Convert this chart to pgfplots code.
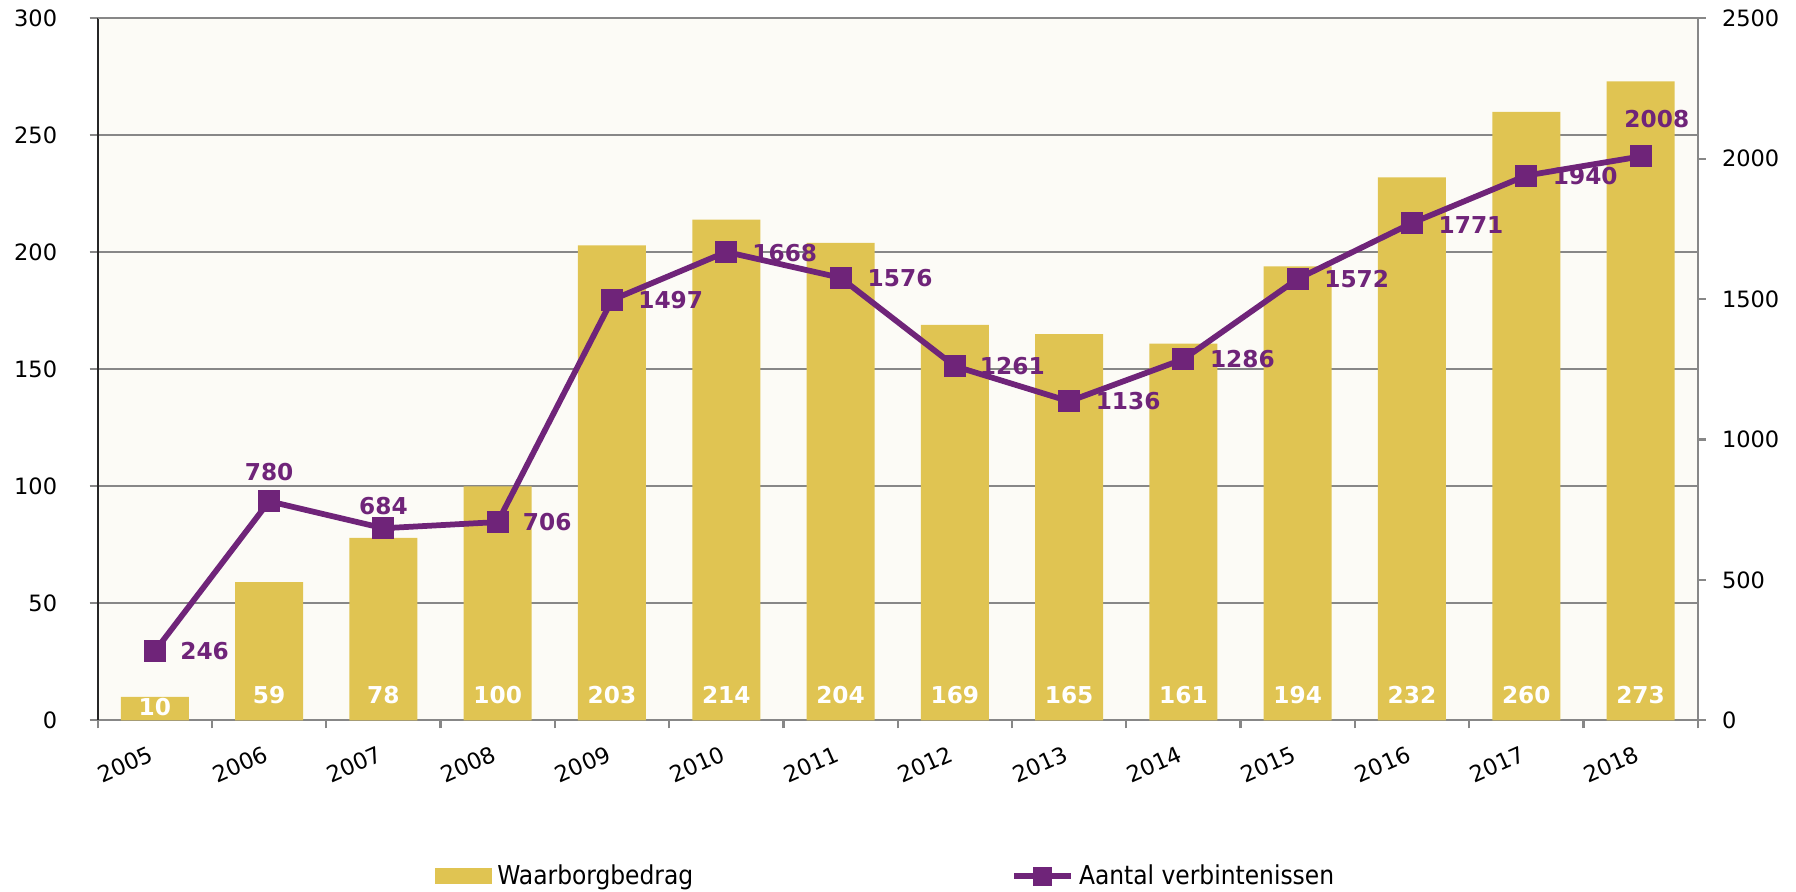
\documentclass[border=0pt]{standalone}
\usepackage{pgfplots}
\pgfplotsset{compat=1.18}
\usepackage{pgfplotstable}
\usepackage{fontspec}
\setmainfont{DejaVu Sans}
\newfontfamily\condfont{DejaVu Sans Condensed}
\definecolor{bargold}{RGB}{224,196,82}
\definecolor{linepurple}{RGB}{111,36,121}
\definecolor{bgcream}{RGB}{252,251,246}
\definecolor{gridgray}{RGB}{135,135,135}

\pgfplotstableread{
x year w ly
0 2005 10 5.7
1 2006 59 10.7
2 2007 78 10.7
3 2008 100 10.7
4 2009 203 10.7
5 2010 214 10.7
6 2011 204 10.7
7 2012 169 10.7
8 2013 165 10.7
9 2014 161 10.7
10 2015 194 10.7
11 2016 232 10.7
12 2017 260 10.7
13 2018 273 10.7
}\bars

\pgfplotstableread{
x n dx dy
0 246 19.9 0
1 780 0 11.6
2 684 0 8.9
3 706 19.8 0
4 1497 23.5 0
5 1668 23.4 -0.3
6 1576 23.8 0
7 1261 23.0 0
8 1136 23.6 0
9 1286 23.6 0
10 1572 23.6 0
11 1771 23.6 -0.8
12 1940 23.6 0
13 2008 6.5 15
}\lines

\begin{document}
\begin{tikzpicture}
\useasboundingbox (-39.08pt,-68.4pt) rectangle (679.32pt,288.12pt);
\begin{axis}[
  at={(0,0)}, anchor=south west,
  scale only axis, width=640pt, height=280.8pt,
  xmin=-0.5, xmax=13.5, ymin=0, ymax=300,
  axis background/.style={fill=bgcream},
  axis x line*=bottom, axis y line*=left,
  x axis line style={gridgray, line width=0.9pt, -},
  y axis line style={black!85, line width=0.9pt, -},
  xtick={0,...,13},
  xticklabels={2005,2006,2007,2008,2009,2010,2011,2012,2013,2014,2015,2016,2017,2018},
  minor xtick={-0.5,0.5,...,13.5},
  major x tick style={draw=none},
  minor x tick style={gridgray, line width=0.9pt},
  minor tick length=3.2pt,
  ytick={0,50,...,300},
  ytick style={gridgray, line width=0.9pt},
  major tick length=3.2pt,
  tick align=outside,
  ymajorgrids,
  grid style={gridgray, line width=0.9pt},
  /pgf/number format/assume math mode=true,
  tick label style={font=\fontsize{9}{10}\selectfont, text=black},
  yticklabel style={xshift=-9.5pt},
  xticklabel style={rotate=24, anchor=north east, xshift=-1.6pt, yshift=-1.5pt},
  legend style={at={(0.2108,-0.2222)}, anchor=west, draw=none, fill=none, inner sep=0pt,
    font=\condfont\fontsize{10.4}{12}\selectfont},
]
\addplot[ybar, bar width=27.2pt, bar shift=0pt, fill=bargold, draw=none,
  legend image code/.code={\fill[bargold] (0pt,-3.2pt) rectangle (22.8pt,3.2pt);}]
  table[x=x, y=w]{\bars};
\addlegendentry{Waarborgbedrag}
\addplot[draw=none, forget plot, nodes near coords, point meta=explicit symbolic,
  nodes near coords style={text=white, font=\bfseries\fontsize{9.3}{10}\selectfont, anchor=center}]
  table[x=x, y=ly, meta=w]{\bars};
\draw[gridgray, line width=0.9pt] (rel axis cs:0,1) -- (rel axis cs:1,1);
\end{axis}
\begin{axis}[
  at={(0,0)}, anchor=south west,
  scale only axis, width=640pt, height=280.8pt,
  xmin=-0.5, xmax=13.5, ymin=0, ymax=2500,
  axis x line=none, axis y line*=right,
  y axis line style={gridgray, line width=0.9pt, -},
  ytick={0,500,...,2500},
  ytick style={gridgray, line width=0.9pt},
  major tick length=3.2pt,
  tick align=outside,
  /pgf/number format/assume math mode=true,
  /pgf/number format/1000 sep={},
  tick label style={font=\fontsize{9}{10}\selectfont, text=black},
  yticklabel style={xshift=3pt},
  clip=false,
  legend style={at={(0.5707,-0.2222)}, anchor=west, draw=none, fill=none, inner sep=0pt,
    font=\condfont\fontsize{10.4}{12}\selectfont},
]
\addplot[linepurple, line width=2.3pt, mark=square*, mark size=3.25pt, mark options={solid},
  legend image code/.code={\draw[linepurple, line width=2.3pt, mark=square*, mark repeat=2, mark phase=2, mark size=2.6pt]
    plot coordinates {(0pt,0pt) (11.4pt,0pt) (22.8pt,0pt)};}]
  table[x=x, y=n]{\lines};
\addlegendentry{Aantal verbintenissen}
\addplot[draw=none, forget plot, nodes near coords, point meta=explicit symbolic,
  visualization depends on={\thisrow{dx}\as\dx},
  visualization depends on={\thisrow{dy}\as\dy},
  nodes near coords style={text=linepurple, font=\bfseries\fontsize{9.3}{10}\selectfont,
    anchor=center, xshift=\dx pt, yshift=\dy pt}]
  table[x=x, y=n, meta=n]{\lines};
\end{axis}
\end{tikzpicture}
\end{document}
